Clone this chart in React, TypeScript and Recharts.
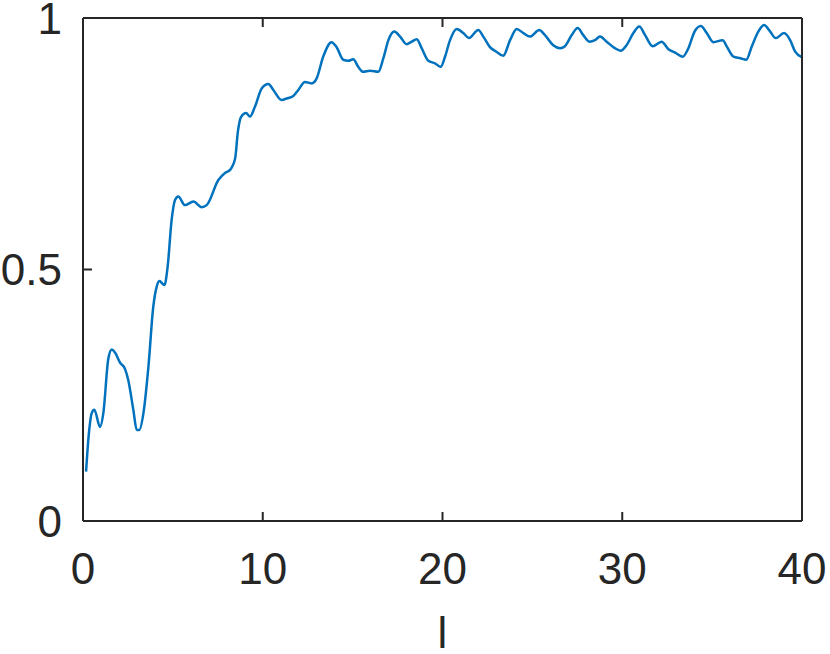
import { LineChart, Line, XAxis, YAxis } from "recharts";

// sample positions (x axis "l")
const lVals = [
  0.17, 0.33, 0.48, 0.63, 0.95, 1.13, 1.41, 1.6, 1.78, 2.06, 2.34, 2.52, 2.8, 2.99, 3.13, 3.36, 3.64,
  3.91, 4.1, 4.25, 4.53, 4.71, 4.93, 5.12, 5.3, 5.67, 6.14, 6.6, 6.88, 7.53, 7.9, 8.18, 8.46, 8.62,
  8.79, 9.07, 9.29, 9.57, 9.94, 10.31, 10.59, 11.05, 11.33, 11.7, 11.98, 12.35, 12.72, 13.0, 13.37,
  13.83, 14.11, 14.48, 14.76, 15.04, 15.31, 15.59, 15.97, 16.43, 16.71, 16.99, 17.32, 17.64, 18.0,
  18.29, 18.57, 18.84, 19.21, 19.58, 19.9, 20.14, 20.42, 20.79, 21.16, 21.47, 21.99, 22.27, 22.64,
  23.0, 23.38, 23.76, 24.13, 24.5, 24.87, 25.38, 25.7, 26.16, 26.54, 26.81, 27.19, 27.52, 27.83,
  28.17, 28.48, 28.76, 29.13, 29.59, 29.91, 30.24, 30.62, 30.95, 31.27, 31.69, 32.19, 32.57, 32.94,
  33.36, 33.68, 34.01, 34.37, 34.7, 35.07, 35.59, 35.82, 36.19, 36.57, 36.9, 37.2, 37.57, 37.89,
  38.23, 38.54, 39.0, 39.34, 39.62, 40.0,
];

const yVals = [
  0.098, 0.175, 0.214, 0.221, 0.187, 0.214, 0.323, 0.341, 0.335, 0.315, 0.302, 0.28, 0.221, 0.181,
  0.181, 0.214, 0.307, 0.426, 0.466, 0.477, 0.469, 0.506, 0.598, 0.638, 0.645, 0.628, 0.635, 0.624,
  0.628, 0.678, 0.692, 0.698, 0.72, 0.775, 0.803, 0.811, 0.804, 0.824, 0.86, 0.869, 0.857, 0.837,
  0.84, 0.845, 0.857, 0.873, 0.87, 0.88, 0.924, 0.952, 0.942, 0.917, 0.915, 0.918, 0.903, 0.893,
  0.895, 0.893, 0.92, 0.956, 0.973, 0.963, 0.948, 0.953, 0.958, 0.94, 0.915, 0.91, 0.903, 0.923,
  0.956, 0.978, 0.97, 0.96, 0.976, 0.963, 0.942, 0.933, 0.925, 0.956, 0.978, 0.97, 0.963, 0.976,
  0.966, 0.946, 0.94, 0.944, 0.966, 0.98, 0.966, 0.953, 0.956, 0.963, 0.953, 0.94, 0.935, 0.946,
  0.97, 0.983, 0.966, 0.944, 0.953, 0.938, 0.931, 0.923, 0.94, 0.972, 0.984, 0.97, 0.952, 0.956,
  0.943, 0.923, 0.92, 0.917, 0.943, 0.973, 0.986, 0.973, 0.96, 0.97, 0.956, 0.933, 0.922,
];

const xTicks = [0, 10, 20, 30, 40];
const yTicks = [0, 0.5, 1];

const data = lVals.map((l, i) => ({ l, v: yVals[i] }));

const axisColor = "#262626";
const font = "'Liberation Sans', Arial, Helvetica, sans-serif";
const axisLine = { stroke: axisColor, strokeWidth: 2 };
const tickLine = { stroke: axisColor, strokeWidth: 2 };
const tickStyle = { fill: axisColor, fontSize: 44, fontFamily: font };
const noLabel = () => <g />;

export default function App() {
  return (
    <div style={{ position: "absolute", left: 0, top: 0, background: "#fff" }}>
      <LineChart
        width={830}
        height={654}
        data={data}
        margin={{ top: 17, right: 27, bottom: 0, left: 0 }}
      >
        <XAxis
          xAxisId="bottom"
          dataKey="l"
          type="number"
          domain={[0, 40]}
          ticks={xTicks}
          interval={0}
          height={133}
          axisLine={axisLine}
          tickLine={tickLine}
          tickSize={-9}
          tickMargin={41}
          tick={tickStyle}
          label={{
            value: "l",
            position: "insideBottom",
            offset: 6,
            fill: axisColor,
            fontSize: 44,
            fontFamily: font,
          }}
        />
        <XAxis
          xAxisId="top"
          orientation="top"
          dataKey="l"
          type="number"
          domain={[0, 40]}
          ticks={xTicks}
          interval={0}
          height={1}
          axisLine={axisLine}
          tickLine={tickLine}
          tickSize={-9}
          tick={noLabel}
        />
        <YAxis
          yAxisId="left"
          type="number"
          domain={[0, 1]}
          ticks={yTicks}
          interval={0}
          width={83}
          axisLine={axisLine}
          tickLine={tickLine}
          tickSize={-9}
          tickMargin={30}
          tick={tickStyle}
          tickFormatter={(v: number) => String(v)}
        />
        <YAxis
          yAxisId="right"
          orientation="right"
          type="number"
          domain={[0, 1]}
          ticks={yTicks}
          interval={0}
          width={1}
          axisLine={axisLine}
          tickLine={tickLine}
          tickSize={-9}
          tick={noLabel}
        />
        <Line
          xAxisId="bottom"
          yAxisId="left"
          dataKey="v"
          type="monotone"
          stroke="#0072BD"
          strokeWidth={2.5}
          dot={false}
          isAnimationActive={false}
        />
      </LineChart>
    </div>
  );
}
